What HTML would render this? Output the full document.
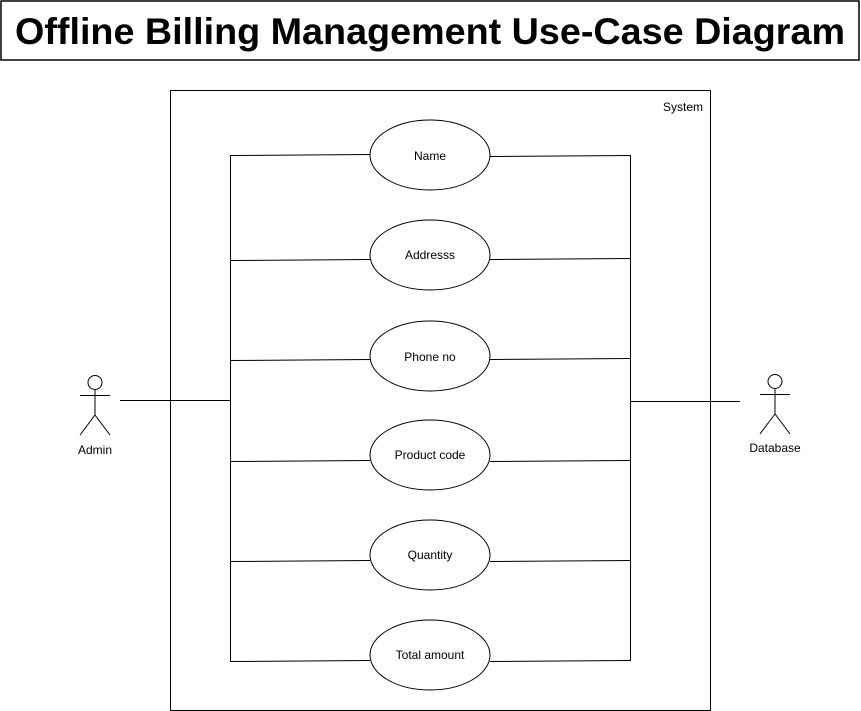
<!DOCTYPE html>
<html><head><style>body{margin:0;background:#fff}svg{display:block}</style></head><body>
<svg width="861" height="711" viewBox="0 0 861 711" xmlns="http://www.w3.org/2000/svg" font-family="Liberation Sans, Arial, sans-serif">
<rect x="1" y="1" width="858" height="59" fill="#fff" stroke="#000" stroke-width="1.5"/>
<text x="430" y="44" text-anchor="middle" font-size="37" font-weight="bold" textLength="830" lengthAdjust="spacingAndGlyphs">Offline Billing Management Use-Case Diagram</text>
<rect x="170.5" y="90.5" width="540" height="620" fill="#fff" stroke="#000"/>
<text x="703" y="111" text-anchor="end" font-size="12">System</text>
<g stroke="#000" fill="none">
<line x1="230.5" y1="155" x2="230.5" y2="661"/>
<line x1="630.5" y1="155" x2="630.5" y2="661"/>
<line x1="120" y1="400.5" x2="230" y2="400.5"/>
<line x1="630" y1="401.5" x2="740" y2="401.5"/>
<line x1="230" y1="155.5" x2="370" y2="154.5"/><line x1="490" y1="156.5" x2="630" y2="155.5"/>
<line x1="230" y1="260.5" x2="370" y2="259.5"/><line x1="490" y1="259.5" x2="630" y2="258.5"/>
<line x1="230" y1="360.5" x2="370" y2="359.5"/><line x1="490" y1="359.5" x2="630" y2="358.5"/>
<line x1="230" y1="461.5" x2="370" y2="460.5"/><line x1="490" y1="461.5" x2="630" y2="460.5"/>
<line x1="230" y1="561.5" x2="370" y2="560.5"/><line x1="490" y1="561.5" x2="630" y2="560.5"/>
<line x1="230" y1="661.5" x2="370" y2="660.5"/><line x1="490" y1="661.5" x2="630" y2="660.5"/>
</g>
<g stroke="#000" fill="#fff">
<ellipse cx="430" cy="155" rx="60" ry="35"/>
<ellipse cx="430" cy="255" rx="60" ry="35"/>
<ellipse cx="430" cy="356" rx="60" ry="35"/>
<ellipse cx="430" cy="455" rx="60" ry="35"/>
<ellipse cx="430" cy="555" rx="60" ry="35"/>
<ellipse cx="430" cy="655" rx="60" ry="35"/>
</g>
<g font-size="12" text-anchor="middle">
<text x="430" y="160">Name</text>
<text x="430" y="259">Addresss</text>
<text x="430" y="361">Phone no</text>
<text x="430" y="459">Product code</text>
<text x="430" y="559">Quantity</text>
<text x="430" y="659">Total amount</text>
</g>
<g stroke="#000" fill="none">
<circle cx="95" cy="382.5" r="7" fill="#fff"/>
<line x1="95" y1="389.5" x2="95" y2="415"/>
<line x1="80" y1="395.5" x2="110" y2="395.5"/>
<line x1="95" y1="415" x2="80" y2="435"/>
<line x1="95" y1="415" x2="110" y2="435"/>
<circle cx="775" cy="381.5" r="7" fill="#fff"/>
<line x1="775" y1="388.5" x2="775" y2="414"/>
<line x1="760" y1="394.5" x2="790" y2="394.5"/>
<line x1="775" y1="414" x2="760" y2="434"/>
<line x1="775" y1="414" x2="790" y2="434"/>
</g>
<text x="95" y="454" font-size="12" text-anchor="middle">Admin</text>
<text x="775" y="452" font-size="12" text-anchor="middle">Database</text>
</svg>
</body></html>
